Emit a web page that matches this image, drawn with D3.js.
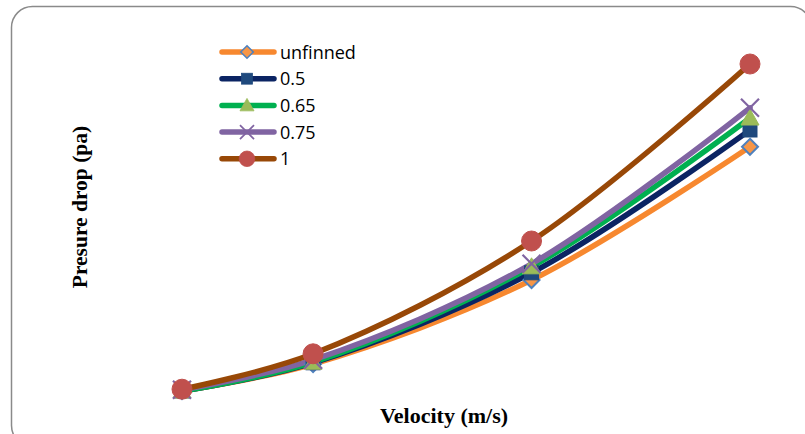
<!DOCTYPE html>
<html>
<head>
<meta charset="utf-8">
<script src="https://cdnjs.cloudflare.com/ajax/libs/d3/7.8.5/d3.min.js"></script>
<style>
    html, body { margin: 0; padding: 0; background: #fff; }
    #viz { width: 805px; height: 434px; }
</style>
</head>
<body>
<div id="viz"></div>
<script>
var velocity = [1, 1.6, 2.6, 3.6],

    seriesNames = ['unfinned', '0.5', '0.65', '0.75', '1'],

    unfinned = [15, 60, 200, 422],
    fin05    = [15, 62, 212, 450],
    fin065   = [15, 63, 222, 470],
    fin075   = [17, 67, 227, 487],
    fin1     = [18, 77, 265, 560],

    seriesValues = [unfinned, fin05, fin065, fin075, fin1],

    lineColors   = ['#F7882F', '#0B2463', '#00B050', '#8064A2', '#984807'],
    markerFill   = ['#F79646', '#1F497D', '#9BBB59', '#8064A2', '#C0504D'],
    markerStroke = ['#4F81BD', '#1F497D', '#9BBB59', '#8064A2', '#C0504D'],
    markerType   = ['diamond', 'square', 'triangle', 'cross', 'circle'],

    svg = d3.select('#viz')
        .append('svg')
            .attr('width', 805)
            .attr('height', 434),

    x = d3.scaleLinear().domain([1, 3.6]).range([182, 750]),
    y = d3.scaleLinear().domain([0, 600]).range([400, 40]),

    line = d3.line()
        .x(function (d, i) { return x(velocity[i]); })
        .y(function (d) { return y(d); })
        .curve(d3.curveCatmullRom.alpha(0.5)),

    linesGroup = svg.append('g').attr('class', 'lines'),
    dotsGroup = svg.append('g').attr('class', 'dots'),
    legendGroup = svg.append('g').attr('class', 'legend'),

    addMarker = function (g, type, cx, cy, k) {
        var m;
        if (type === 'diamond') {
            m = g.append('path').attr('d', 'M0,-8L8,0L0,8L-8,0Z')
                .attr('stroke-width', 2);
        } else if (type === 'square') {
            m = g.append('rect').attr('x', -7).attr('y', -7)
                .attr('width', 14).attr('height', 14);
        } else if (type === 'triangle') {
            m = g.append('path').attr('d', 'M0,-9L9,7L-9,7Z');
        } else if (type === 'cross') {
            m = g.append('path').attr('d', 'M-9,-9L9,9M-9,9L9,-9')
                .attr('stroke-width', 2.2);
        } else {
            m = g.append('circle').attr('r', 10);
        }
        m.attr('transform', 'translate(' + cx + ',' + cy + ')')
            .attr('fill', type === 'cross' ? 'none' : markerFill[k])
            .attr('stroke', markerStroke[k]);
        return m;
    };

// chart frame (bottom and right edges run off the picture)
svg.append('rect')
    .attr('x', 11.5)
    .attr('y', 6.5)
    .attr('width', 800)
    .attr('height', 440)
    .attr('rx', 21)
    .attr('fill', 'none')
    .attr('stroke', '#8a8a8a')
    .attr('stroke-width', 1.5);

seriesValues.forEach(function (vals, k) {
    linesGroup.append('path')
        .attr('d', line(vals))
        .attr('fill', 'none')
        .attr('stroke', lineColors[k])
        .attr('stroke-width', 5.5)
        .attr('stroke-linecap', 'round');
});

seriesValues.forEach(function (vals, k) {
    vals.forEach(function (v, i) {
        addMarker(dotsGroup, markerType[k], x(velocity[i]), y(v), k);
    });
});

// legend
seriesNames.forEach(function (name, k) {
    var ly = 52 + k * 26.7;
    legendGroup.append('line')
        .attr('x1', 222).attr('x2', 274)
        .attr('y1', ly).attr('y2', ly)
        .attr('stroke', lineColors[k])
        .attr('stroke-width', 5.5)
        .attr('stroke-linecap', 'round');
    addMarker(legendGroup, markerType[k], 247, ly, k)
        .attr('transform', 'translate(247,' + ly + ') scale(0.78)');
    legendGroup.append('text')
        .attr('x', 280)
        .attr('y', ly + 6.5)
        .attr('font-family', 'Open Sans, sans-serif')
        .attr('font-size', 18)
        .attr('fill', '#000')
        .text(name);
});

// axis titles
svg.append('text')
    .attr('x', 444)
    .attr('y', 423)
    .attr('text-anchor', 'middle')
    .attr('font-family', 'Liberation Serif, Times New Roman, serif')
    .attr('font-weight', 'bold')
    .attr('font-size', 22)
    .text('Velocity (m/s)');

svg.append('text')
    .attr('transform', 'translate(87,207) rotate(-90)')
    .attr('text-anchor', 'middle')
    .attr('font-family', 'Liberation Serif, Times New Roman, serif')
    .attr('font-weight', 'bold')
    .attr('font-size', 21.5)
    .text('Presure drop (pa)');
</script>
</body>
</html>
